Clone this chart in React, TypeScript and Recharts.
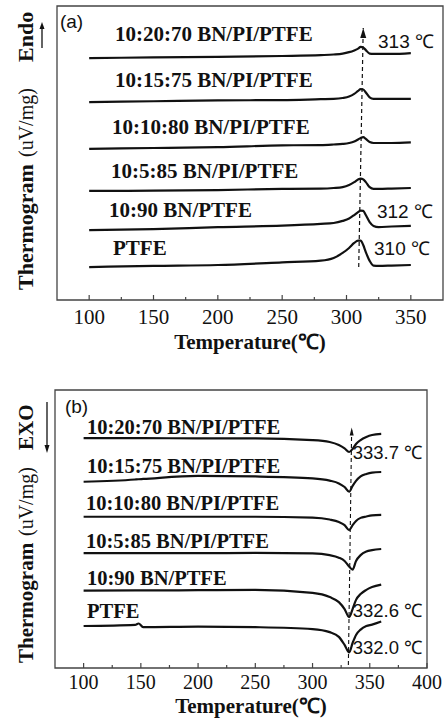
import React from "react"
import { LineChart, Line, XAxis, YAxis, ReferenceArea, ReferenceDot } from "recharts"

const SERIF = '"Liberation Serif", "Times New Roman", serif'
const SANS = '"Liberation Sans", Arial, sans-serif'

// ---------- panel (a): heating, endo up ----------
const TEMPS_A = [100, 150, 200, 250, 280, 290, 297, 302, 306, 309, 311, 313, 315, 318, 321, 325, 335, 350]
const HEAT_20_70 = [82.3, 82.5, 82.7, 83.0, 83.3, 83.5, 83.8, 84.3, 84.9, 85.5, 86.1, 85.9, 85.0, 83.8, 83.7, 83.7, 83.7, 84.0]
const HEAT_15_75 = [67.3, 67.6, 67.9, 68.0, 68.3, 68.4, 68.7, 69.2, 70.1, 71.1, 71.7, 71.6, 70.6, 68.9, 68.4, 68.4, 68.4, 68.4]
const HEAT_10_80 = [51.4, 51.7, 52.0, 52.6, 52.7, 52.9, 53.1, 53.4, 53.9, 54.6, 55.1, 55.4, 54.8, 53.7, 53.4, 53.4, 53.4, 53.6]
const HEAT_5_85 = [37.1, 37.2, 37.4, 37.8, 37.9, 38.1, 38.4, 39.1, 40.1, 41.0, 41.3, 41.0, 40.1, 38.4, 37.8, 37.8, 37.9, 38.1]
const HEAT_10_90 = [23.8, 24.1, 24.8, 25.3, 25.9, 26.2, 26.9, 27.7, 28.9, 29.9, 30.4, 30.3, 28.9, 26.5, 25.2, 24.8, 25.0, 25.2]
const HEAT_PTFE = [11.2, 11.6, 11.9, 12.8, 13.4, 14.3, 16.0, 17.7, 19.4, 20.2, 20.2, 18.7, 16.3, 13.3, 11.7, 11.6, 11.7, 11.9]
const ARROW_A = [{ t: 309.5, v: 11.2 }, { t: 313, v: 92.5 }]
const TICKS_A = [100, 125, 150, 175, 200, 225, 250, 275, 300, 325, 350]

// ---------- panel (b): cooling, exo down ----------
const TEMPS_B = [100, 145, 148, 152, 200, 250, 300, 315, 323, 328, 332, 335, 338, 342, 347, 352, 360]
const COOL_20_70 = [82.7, 82.7, 82.7, 82.7, 82.6, 82.6, 82.0, 81.3, 80.2, 79.0, 77.7, 78.8, 80.6, 82.0, 83.1, 83.8, 84.2]
const COOL_15_75 = [67.0, 67.8, 67.9, 68.0, 69.1, 68.9, 68.2, 67.4, 66.4, 65.1, 63.4, 65.5, 67.3, 68.9, 69.8, 70.3, 70.5]
const COOL_10_80 = [54.4, 54.4, 54.4, 54.4, 54.4, 54.4, 54.1, 53.4, 52.5, 51.4, 49.6, 51.4, 52.9, 54.0, 54.5, 54.9, 55.1]
const COOL_5_85 = [41.3, 41.3, 41.3, 41.3, 41.3, 41.4, 41.2, 40.6, 39.7, 38.5, 36.5, 35.4, 38.5, 40.6, 41.9, 42.4, 42.8]
const COOL_10_90 = [27.8, 27.9, 27.9, 27.9, 28.0, 28.1, 27.0, 25.5, 23.7, 21.2, 18.3, 21.2, 24.5, 26.6, 28.1, 29.1, 30.0]
const COOL_PTFE = [15.1, 15.5, 16.0, 14.7, 14.9, 14.7, 14.0, 12.9, 11.2, 8.3, 5.6, 9.0, 11.9, 13.8, 15.1, 15.6, 16.7]
const ARROW_B = [{ t: 331.3, v: 1.1 }, { t: 334.2, v: 86.5 }]
const TICKS_B = [100, 125, 150, 175, 200, 225, 250, 275, 300, 325, 350, 375, 400]

const NAMES = ["10:20:70 BN/PI/PTFE", "10:15:75 BN/PI/PTFE", "10:10:80 BN/PI/PTFE", "10:5:85 BN/PI/PTFE", "10:90 BN/PTFE", "PTFE"]
const PEAKS_A = ["313 ℃", "312 ℃", "310 ℃"]
const PEAKS_B = ["333.7 ℃", "332.6 ℃", "332.0 ℃"]

const rowsA = TEMPS_A.map((t, i) => ({
  t,
  s0: HEAT_20_70[i], s1: HEAT_15_75[i], s2: HEAT_10_80[i],
  s3: HEAT_5_85[i], s4: HEAT_10_90[i], s5: HEAT_PTFE[i],
}))
const rowsB = TEMPS_B.map((t, i) => ({
  t,
  s0: COOL_20_70[i], s1: COOL_15_75[i], s2: COOL_10_80[i],
  s3: COOL_5_85[i], s4: COOL_10_90[i], s5: COOL_PTFE[i],
}))

// where the text sits, in data units
const NAME_POS_A = [[120, 88.1], [120, 72.4], [117.7, 56.5], [117, 41.5], [115.4, 28.2], [118.5, 15.3]]
const PEAK_POS_A = [[324.5, 85.7], [323.7, 27.9], [321.4, 15.3]]
const NAME_POS_B = [[103, 84.2], [103, 70.3], [102.1, 56.8], [102.1, 43.1], [103, 29.9], [103, 17.9]]
const PEAK_POS_B = [[335.1, 75.2], [335.1, 18.2], [335.1, 4.9]]

const textAt = (text: string, style: any) => (props: any) => {
  const vb = props.viewBox || {}
  const x = vb.x + (vb.width || 0) / 2
  const y = vb.y + (vb.height || 0) / 2
  return (
    <text x={x} y={y} fill="#111" {...style}>
      {text}
    </text>
  )
}

const makeTick = (bottom: number, fontSize: number, dy: number) => (props: any) => {
  const { x, payload } = props
  const major = payload.value % 50 === 0
  return (
    <g>
      <line x1={x} x2={x} y1={bottom} y2={bottom - (major ? 5 : 3)} stroke="#444" strokeWidth={1.2} />
      {major && (
        <text x={x} y={bottom + dy} textAnchor="middle" fontFamily={SERIF} fontSize={fontSize} fill="#111">
          {payload.value}
        </text>
      )}
    </g>
  )
}

const arrowDot = (w: number, h: number) => (props: any) => {
  const { cx, cy, index } = props
  if (index !== 1) return <g key={`d${index}`} />
  return <path key={`d${index}`} d={`M${cx},${cy} L${cx - w / 2},${cy + h} L${cx + w / 2},${cy + h} Z`} fill="#111" />
}

const rotText = (x: number, y: number, text: string, size: number, bold: boolean) => (
  <text
    x={x}
    y={y}
    transform={`rotate(-90 ${x} ${y})`}
    fontFamily={SERIF}
    fontSize={size}
    fontWeight={bold ? "bold" : "normal"}
    fill="#111"
  >
    {text}
  </text>
)

const YTitleA = () => (
  <g>
    {rotText(33, 290, "Thermogram", 22, true)}
    {rotText(33, 157, "(uV/mg)", 20, false)}
    {rotText(33, 62, "Endo", 22, true)}
    <line x1={42} x2={42} y1={48} y2={28} stroke="#111" strokeWidth={1.3} />
    <path d="M42,22 L39.5,29 L44.5,29 Z" fill="#111" />
  </g>
)

const YTitleB = () => (
  <g>
    {rotText(33, 318, "Thermogram", 21, true)}
    {rotText(33, 191, "(uV/mg)", 20, false)}
    {rotText(33, 105, "EXO", 21, true)}
    <line x1={47} x2={47} y1={57} y2={102} stroke="#111" strokeWidth={1.3} />
    <path d="M47,108 L44.5,100 L49.5,100 Z" fill="#111" />
  </g>
)

const XTitle = (cx: number, y: number) => () => (
  <text x={cx} y={y} textAnchor="middle" fontFamily={SERIF} fontSize={21} fontWeight="bold" fill="#111">
    Temperature(℃)
  </text>
)

const SERIES = ["s0", "s1", "s2", "s3", "s4", "s5"]

export default function App() {
  return (
    <div style={{ position: "absolute", left: 0, top: 0, width: 447, height: 721, background: "#fff" }}>
      {/* panel (a) */}
      <div style={{ position: "absolute", left: 0, top: 0 }}>
        <LineChart width={447} height={360} data={rowsA} margin={{ top: 6, right: 4, bottom: 0, left: 0 }}>
          <XAxis
            type="number"
            dataKey="t"
            domain={[75, 375]}
            ticks={TICKS_A}
            interval={0}
            axisLine={false}
            tickLine={false}
            height={60}
            tick={makeTick(300, 21, 24)}
            label={{ content: XTitle(250, 349) }}
          />
          <YAxis
            type="number"
            domain={[0, 100]}
            width={57}
            tick={false}
            axisLine={false}
            tickLine={false}
            label={{ content: YTitleA }}
          />
          <ReferenceArea x1={75} x2={375} y1={0} y2={100} fill="#fff" fillOpacity={0} stroke="#444" strokeWidth={1.3} />
          {SERIES.map((k) => (
            <Line key={k} type="monotone" dataKey={k} stroke="#111" strokeWidth={2.2} dot={false} isAnimationActive={false} />
          ))}
          <Line
            data={ARROW_A}
            dataKey="v"
            type="linear"
            stroke="#111"
            strokeWidth={1.2}
            strokeDasharray="4 3"
            dot={arrowDot(6, 10)}
            isAnimationActive={false}
          />
          {NAMES.map((n, i) => (
            <ReferenceDot
              key={n}
              x={NAME_POS_A[i][0]}
              y={NAME_POS_A[i][1]}
              r={0}
              fill="none"
              stroke="none"
              label={{ content: textAt(n, { fontFamily: SERIF, fontSize: 21, fontWeight: "bold" }) }}
            />
          ))}
          {PEAKS_A.map((p, i) => (
            <ReferenceDot
              key={p}
              x={PEAK_POS_A[i][0]}
              y={PEAK_POS_A[i][1]}
              r={0}
              fill="none"
              stroke="none"
              label={{ content: textAt(p, { fontFamily: SANS, fontSize: 19 }) }}
            />
          ))}
          <ReferenceDot x={77.3} y={92.5} r={0} fill="none" stroke="none" label={{ content: textAt("(a)", { fontFamily: SANS, fontSize: 19 }) }} />
        </LineChart>
      </div>

      {/* panel (b) */}
      <div style={{ position: "absolute", left: 0, top: 345 }}>
        <LineChart width={447} height={376} data={rowsB} margin={{ top: 45, right: 20, bottom: 0, left: 0 }}>
          <XAxis
            type="number"
            dataKey="t"
            domain={[75, 400]}
            ticks={TICKS_B}
            interval={0}
            axisLine={false}
            tickLine={false}
            height={53}
            tick={makeTick(323, 20, 21)}
            label={{ content: XTitle(251, 368) }}
          />
          <YAxis
            type="number"
            domain={[0, 100]}
            width={55}
            tick={false}
            axisLine={false}
            tickLine={false}
            label={{ content: YTitleB }}
          />
          <ReferenceArea x1={75} x2={400} y1={0} y2={100} fill="#fff" fillOpacity={0} stroke="#444" strokeWidth={1.3} />
          {SERIES.map((k) => (
            <Line key={k} type="monotone" dataKey={k} stroke="#111" strokeWidth={2.2} dot={false} isAnimationActive={false} />
          ))}
          <Line
            data={ARROW_B}
            dataKey="v"
            type="linear"
            stroke="#111"
            strokeWidth={1.1}
            strokeDasharray="4 3"
            dot={arrowDot(4, 8)}
            isAnimationActive={false}
          />
          {NAMES.map((n, i) => (
            <ReferenceDot
              key={n}
              x={NAME_POS_B[i][0]}
              y={NAME_POS_B[i][1]}
              r={0}
              fill="none"
              stroke="none"
              label={{ content: textAt(n, { fontFamily: SERIF, fontSize: 20.5, fontWeight: "bold" }) }}
            />
          ))}
          {PEAKS_B.map((p, i) => (
            <ReferenceDot
              key={p}
              x={PEAK_POS_B[i][0]}
              y={PEAK_POS_B[i][1]}
              r={0}
              fill="none"
              stroke="none"
              label={{ content: textAt(p, { fontFamily: SANS, fontSize: 18.5 }) }}
            />
          ))}
          <ReferenceDot x={83.7} y={91.8} r={0} fill="none" stroke="none" label={{ content: textAt("(b)", { fontFamily: SANS, fontSize: 19 }) }} />
        </LineChart>
      </div>
    </div>
  )
}
